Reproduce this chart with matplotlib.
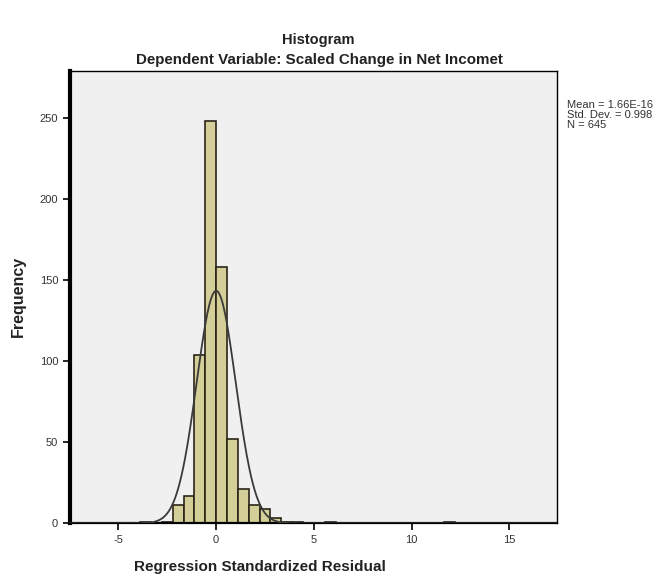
import numpy as np
import matplotlib.pyplot as plt

# bin counts (bin width 5/9, first bin starts at -35/9)
bin_width = 5 / 9
first_edge = -7 * bin_width
counts = [1, 0, 1, 11, 17, 104, 248, 158, 52, 21, 11, 9, 3, 1, 1, 0, 0, 1,
          0, 0, 0, 0, 0, 0, 0, 0, 0, 0, 1]
mean = 1.66e-16
std = 0.998
n = 645

x_ticks = [-5, 0, 5, 10, 15]
y_ticks = [0, 50, 100, 150, 200, 250]

plt.rcParams['font.family'] = ['Liberation Sans', 'DejaVu Sans']
plt.rcParams['axes.unicode_minus'] = False

fig = plt.figure(figsize=(6.67, 5.79), dpi=100)
ax = fig.add_axes([0.105, 0.0962, 0.73, 0.782])
ax.set_facecolor('#F0F0F0')

edges = first_edge + bin_width * np.arange(len(counts) + 1)
ax.bar(edges[:-1], counts, width=bin_width, align='edge',
       color='#D4CF98', edgecolor='#2a2418', linewidth=1.2, zorder=2)

xs = np.linspace(-7.5, 17.45, 800)
curve = n * bin_width / (std * np.sqrt(2 * np.pi)) * np.exp(-0.5 * ((xs - mean) / std) ** 2)
ax.plot(xs, curve, color='#3a3a3a', linewidth=1.3, zorder=3)

ax.set_xlim(-7.48, 17.44)
ax.set_ylim(0, 279)
ax.set_xticks(x_ticks)
ax.set_yticks(y_ticks)
ax.tick_params(axis='both', direction='out', length=5, width=1.2,
               labelsize=8, colors='black', labelcolor='#333333')

ax.spines['left'].set_linewidth(3)
ax.spines['bottom'].set_linewidth(1.6)
ax.spines['top'].set_linewidth(1.0)
ax.spines['right'].set_linewidth(1.0)

ax.set_ylabel('Frequency', fontsize=11.5, fontweight='bold', color='#222222', labelpad=10)
fig.text(260 / 667, 1 - 567 / 579, 'Regression Standardized Residual', ha='center',
         va='center', fontsize=11, fontweight='bold', color='#222222')

fig.text(318 / 667, 1 - 40 / 579, 'Histogram', ha='center', va='center',
         fontsize=10.5, fontweight='bold', color='#222222')
fig.text(319 / 667, 1 - 60 / 579, 'Dependent Variable: Scaled Change in Net Incomet',
         ha='center', va='center', fontsize=10.9, fontweight='bold', color='#222222')

fig.text(567 / 667, 1 - 115 / 579, 'Mean = 1.66E-16\nStd. Dev. = 0.998\nN = 645',
         ha='left', va='center', fontsize=8, color='#333333', linespacing=1.0)

fig.savefig('out.png', dpi=100, facecolor='white')
